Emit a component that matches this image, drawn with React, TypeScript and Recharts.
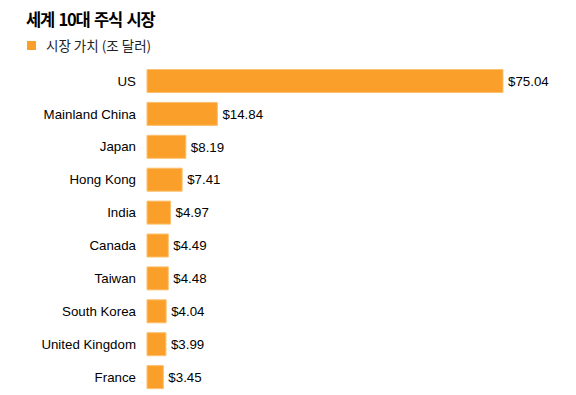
import React from "react";
import { BarChart, Bar, XAxis, YAxis, LabelList } from "recharts";

const countries = [
  "US",
  "Mainland China",
  "Japan",
  "Hong Kong",
  "India",
  "Canada",
  "Taiwan",
  "South Korea",
  "United Kingdom",
  "France",
];
const marketValues = [75.04, 14.84, 8.19, 7.41, 4.97, 4.49, 4.48, 4.04, 3.99, 3.45];

const title = "세계 10대 주식 시장";
const legendLabel = "시장 가치 (조 달러)";

const data = countries.map((c, i) => ({ country: c, value: marketValues[i] }));

const ORANGE = "#FAA02A";
const FONT = "'Liberation Sans', Arial, sans-serif";
const KFONT = "'Noto Sans CJK KR', 'Liberation Sans', sans-serif";

export default function App() {
  return (
    <div
      style={{
        position: "absolute",
        left: 0,
        top: 0,
        width: 576,
        height: 395,
        background: "#fff",
        overflow: "hidden",
      }}
    >
      <div
        style={{
          position: "absolute",
          left: 26,
          top: 7,
          fontFamily: KFONT,
          fontWeight: 700,
          fontSize: 16.5,
          letterSpacing: -1.2,
          wordSpacing: 2,
          lineHeight: "24px",
          color: "#000",
          whiteSpace: "nowrap",
        }}
      >
        {title}
      </div>
      <div
        style={{
          position: "absolute",
          left: 27,
          top: 35,
          display: "flex",
          alignItems: "center",
          fontFamily: KFONT,
          fontSize: 13.5,
          lineHeight: "20px",
          color: "#222",
          whiteSpace: "nowrap",
        }}
      >
        <span
          style={{
            display: "inline-block",
            width: 9,
            height: 9,
            background: ORANGE,
            marginRight: 10,
          }}
        />
        {legendLabel}
      </div>
      <div style={{ position: "absolute", left: 0, top: 0 }}>
        <BarChart
          width={576}
          height={395}
          data={data}
          layout="vertical"
          margin={{ top: 64.5, right: 73, bottom: 1.5, left: 0 }}
          barSize={23}
        >
          <XAxis type="number" domain={[0, 75.04]} hide />
          <YAxis
            type="category"
            dataKey="country"
            width={147}
            axisLine={false}
            tickLine={false}
            tickMargin={5}
            interval={0}
            tick={{ fill: "#000", fontSize: 13.3, fontFamily: FONT }}
          />
          <Bar
            dataKey="value"
            fill={ORANGE}
            stroke="#FCC16F"
            strokeWidth={1}
            isAnimationActive={false}
          >
            <LabelList
              dataKey="value"
              position="right"
              offset={5}
              formatter={(v: number) => `$${Number(v).toFixed(2)}`}
              style={{ fill: "#000", fontSize: 13.3, fontFamily: FONT }}
            />
          </Bar>
        </BarChart>
      </div>
    </div>
  );
}
